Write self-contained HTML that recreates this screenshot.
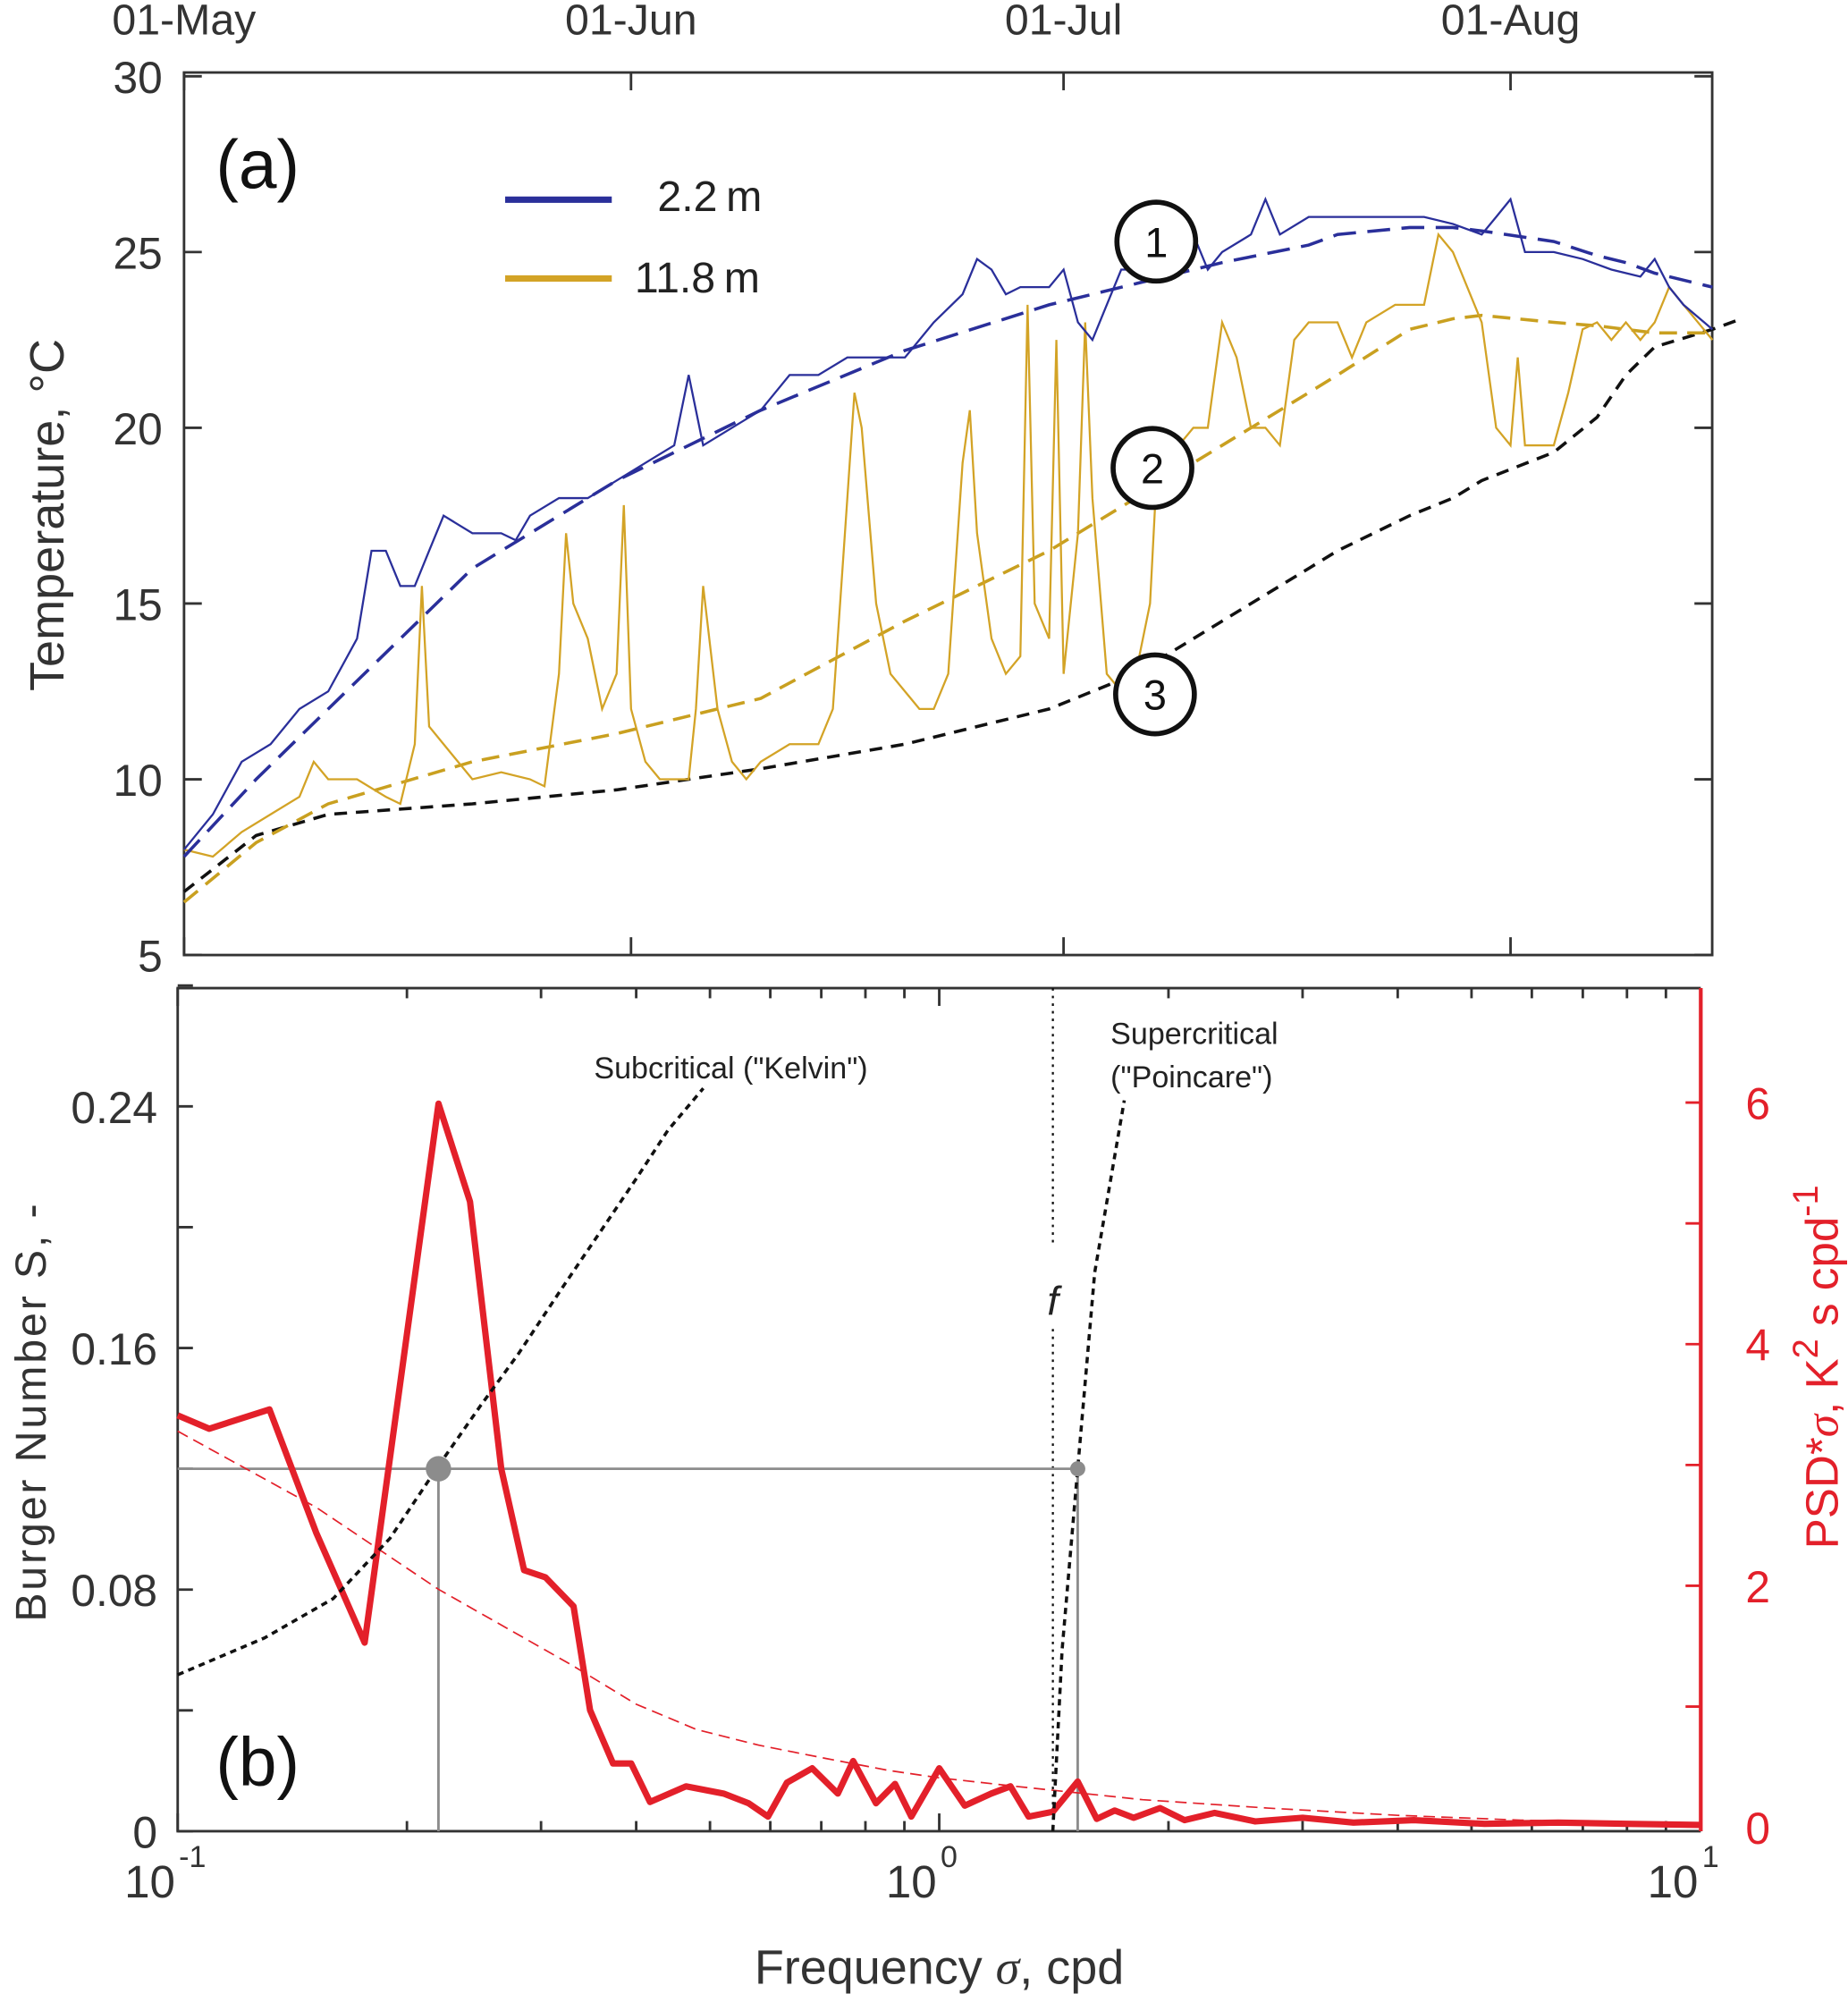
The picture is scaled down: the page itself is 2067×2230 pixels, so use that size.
<!DOCTYPE html>
<html><head><meta charset="utf-8"><style>
html,body{margin:0;padding:0;background:#fff;}
svg{display:block;font-family:"Liberation Sans",Arial,sans-serif;}
</style></head><body>
<svg id="fig" width="2067" height="2230" viewBox="0 0 1456 1568" preserveAspectRatio="none" xmlns="http://www.w3.org/2000/svg">
<g id="pa"></g>
<g id="pb"></g>
</svg>
<script>
// ---- Panel a data ----
const dateTicks = ["01-May","01-Jun","01-Jul","01-Aug"];
const dateTickDays = [0,31,61,92];
const tempTicks = [5,10,15,20,25,30];
const blueDays = [0,2,4,6,8,10,12,13,14,15,16,17,18,20,22,23,24,26,28,30,32,34,35,36,38,40,42,44,46,48,50,52,54,55,56,57,58,60,61,62,63,64,65,67,68,70,71,72,74,75,76,78,80,82,84,86,88,90,91,92,93,95,97,99,101,102,103,104,106];
const blueTemp = [8,9,10.5,11,12,12.5,14,16.5,16.5,15.5,15.5,16.5,17.5,17,17,16.8,17.5,18,18,18.5,19,19.5,21.5,19.5,20,20.5,21.5,21.5,22,22,22,23,23.8,24.8,24.5,23.8,24,24,24.5,23,22.5,23.5,24.5,24.5,24.8,25.5,24.5,25,25.5,26.5,25.5,26,26,26,26,26,25.8,25.5,26,26.5,25,25,24.8,24.5,24.3,24.8,24,23.5,22.8];
const yelDays = [0,2,4,6,8,9,10,12,14,15,16,16.5,17,18,20,22,24,25,26,26.5,27,28,29,30,30.5,31,32,33,35,35.5,36,37,38,39,40,42,44,45,46,46.5,47,48,49,51,52,53,54,54.5,55,56,57,58,58.5,59,60,60.5,61,62,62.5,63,64,65,66,67,67.5,68,69,70,71,72,73,74,75,76,77,78,80,81,82,84,86,87,88,90,91,92,92.5,93,95,96,97,98,99,100,101,102,103,104,106];
const yelTemp = [8,7.8,8.5,9,9.5,10.5,10,10,9.5,9.3,11,15.5,11.5,11,10,10.2,10,9.8,13,17,15,14,12,13,17.8,12,10.5,10,10,12,15.5,12,10.5,10,10.5,11,11,12,18,21,20,15,13,12,12,13,19,20.5,17,14,13,13.5,23.5,15,14,22.5,13,17,23,18,13,12.5,13,15,19,18,19.5,20,20,23,22,20,20,19.5,22.5,23,23,22,23,23.5,23.5,25.5,25,23,20,19.5,22,19.5,19.5,21,22.8,23,22.5,23,22.5,23,24,23.5,22.5];
const fitDays = [0,5,10,20,30,40,50,60,66,72,78,80,85,88,90,95,98,100,102,106,108];
const fitBlue = [7.8,10,12,16,18.5,20.5,22.2,23.5,24.1,24.7,25.2,25.5,25.7,25.7,25.6,25.3,24.9,24.7,24.4,24,23.8];
const fitYel = [6.5,8.2,9.3,10.5,11.3,12.3,14.5,16.5,18,19.5,21,21.5,22.8,23.1,23.2,23,22.9,22.8,22.7,22.7,22.7];
const fitBlack = [6.8,8.4,9,9.3,9.7,10.3,11,12,13,14.5,16,16.5,17.5,18,18.5,19.3,20.3,21.5,22.3,22.8,23.1];

// ---- Panel b data ----
const freqRed = [0.1,0.11,0.132,0.152,0.176,0.22,0.242,0.266,0.285,0.304,0.331,0.348,0.373,0.394,0.417,0.465,0.521,0.562,0.596,0.631,0.681,0.736,0.771,0.826,0.875,0.919,1.0,1.08,1.17,1.24,1.31,1.41,1.52,1.61,1.7,1.8,1.95,2.1,2.3,2.6,3.0,3.5,4.2,5.2,6.5,8.0,10];
const psdRed = [3.41,3.3,3.46,2.44,1.53,5.99,5.18,2.97,2.13,2.07,1.83,0.97,0.53,0.53,0.21,0.34,0.28,0.2,0.09,0.37,0.49,0.28,0.55,0.2,0.36,0.09,0.49,0.18,0.28,0.34,0.09,0.13,0.38,0.07,0.14,0.08,0.16,0.06,0.12,0.05,0.08,0.04,0.06,0.03,0.04,0.03,0.02];
const freqFit = [0.1,0.152,0.22,0.33,0.4,0.48,0.58,0.71,0.86,1.0,1.26,1.85,2.7,4.0,5.8,10];
const psdFit = [3.28,2.65,1.97,1.34,1.02,0.81,0.68,0.57,0.47,0.41,0.34,0.23,0.16,0.1,0.06,0.03];
const freqKelvin = [0.1,0.13,0.16,0.19,0.22,0.25,0.28,0.32,0.36,0.4,0.44,0.49];
const sKelvin = [0.0518,0.064,0.077,0.097,0.121,0.141,0.158,0.18,0.199,0.216,0.232,0.246];
const freqPoinc = [1.41,1.45,1.52,1.6,1.75];
const sPoinc = [0,0.06,0.12,0.185,0.242];
const sCrit = 0.12;
const fKelvinCrit = 0.22, fPoincCrit = 1.52, fInertial = 1.41;
const burgerTicks = [0,0.08,0.16,0.24];
const psdTicks = [0,2,4,6];

const NS="http://www.w3.org/2000/svg";
function mk(parent,tag,attrs,text){const e=document.createElementNS(NS,tag);for(const k in attrs)e.setAttribute(k,attrs[k]);if(text!==undefined)e.textContent=text;parent.appendChild(e);return e;}
const pa=document.getElementById('pa'), pb=document.getElementById('pb');

const AL=145,AR=1349,AT=60,AB=751;
const xd=d=>AL+d*11.36;
const yt=t=>AB-(t-5)*(AB-AT)/25;
function pathFrom(xs,ys,fx,fy){return xs.map((v,i)=>(i?'L':'M')+fx(v).toFixed(1)+','+fy(ys[i]).toFixed(1)).join(' ');}

let e;
e=mk(pa,'rect',{x:AL,y:AT-3,width:AR-AL,height:AB-AT+3,fill:'none',stroke:'#333',"stroke-width":2});

tempTicks.forEach(t=>{
  e=mk(pa,'text',{x:128,y:yt(t)+13,"text-anchor":"end","font-size":35,fill:'#333'},String(t));
  
  mk(pa,'line',{x1:AL,x2:AL+14,y1:yt(t),y2:yt(t),stroke:'#333',"stroke-width":2});
  mk(pa,'line',{x1:AR,x2:AR-14,y1:yt(t),y2:yt(t),stroke:'#333',"stroke-width":2});
});
dateTicks.forEach((s,i)=>{
  const x=xd(dateTickDays[i]);
  e=mk(pa,'text',{x:x,y:27,"text-anchor":"middle","font-size":34,fill:'#333'},s);
  
  mk(pa,'line',{x1:x,x2:x,y1:AT-3,y2:AT+11,stroke:'#333',"stroke-width":2});
  mk(pa,'line',{x1:x,x2:x,y1:AB,y2:AB-14,stroke:'#333',"stroke-width":2});
});
e=mk(pa,'text',{x:0,y:0,transform:'translate(50,405) rotate(-90)',"text-anchor":"middle","font-size":38,fill:'#333'},'Temperature, \u00B0C');

e=mk(pa,'text',{x:170,y:148,"font-size":54,fill:'#111'},'(a)');


e=mk(pa,'path',{d:pathFrom(fitDays,fitBlack,xd,yt),fill:'none',stroke:'#111',"stroke-width":2.5,"stroke-dasharray":"10,7"});

e=mk(pa,'path',{d:pathFrom(fitDays.slice(0,-1),fitYel.slice(0,-1),xd,yt),fill:'none',stroke:'#c9a020',"stroke-width":2.5,"stroke-dasharray":"14,8"});

e=mk(pa,'path',{d:pathFrom(yelDays,yelTemp,xd,yt),fill:'none',stroke:'#d3a326',"stroke-width":1.6});

e=mk(pa,'path',{d:pathFrom(blueDays,blueTemp,xd,yt),fill:'none',stroke:'#2a2f9a',"stroke-width":1.6});

e=mk(pa,'path',{d:pathFrom(fitDays.slice(0,-1),fitBlue.slice(0,-1),xd,yt),fill:'none',stroke:'#2a2f9a',"stroke-width":2.5,"stroke-dasharray":"18,9"});


[[911,190,'1'],[908,368,'2'],[910,546,'3']].forEach(c=>{
  e=mk(pa,'circle',{cx:c[0],cy:c[1],r:31,fill:'#fff',stroke:'#111',"stroke-width":4});
  
  mk(pa,'text',{x:c[0],y:c[1]+12,"text-anchor":"middle","font-size":33,fill:'#111'},c[2]);
});
e=mk(pa,'line',{x1:398,x2:482,y1:157,y2:157,stroke:'#2a2f9a',"stroke-width":5});

e=mk(pa,'text',{x:518,y:166,"font-size":34,fill:'#222'},'2.2\u2009m');

e=mk(pa,'line',{x1:398,x2:482,y1:219,y2:219,stroke:'#d3a326',"stroke-width":5});

e=mk(pa,'text',{x:500,y:230,"font-size":34,fill:'#222'},'11.8\u2009m');


const BL=140,BR=1340,BT=777,BB=1440;
const xf=f=>BL+(Math.log10(f)+1)*600;
const ys=s=>BB-s/0.08*190;
const yp=p=>1437-p*95;

e=mk(pb,'path',{d:`M${BR},${BT} L${BL},${BT} L${BL},${BB} L${BR},${BB}`,fill:'none',stroke:'#333',"stroke-width":2});

e=mk(pb,'line',{x1:BR,x2:BR,y1:BT,y2:BB,stroke:'#e3202a',"stroke-width":3});

for(let dec=-1;dec<1;dec++){for(let m=1;m<10;m++){const x=xf(m*Math.pow(10,dec));const L=m==1?14:8;
  mk(pb,'line',{x1:x,x2:x,y1:BT,y2:BT+L,stroke:'#333',"stroke-width":2});
  mk(pb,'line',{x1:x,x2:x,y1:BB,y2:BB-L,stroke:'#333',"stroke-width":2});}}
[[-1,140],[0,740],[1,1340]].forEach(t=>{
  e=mk(pb,'text',{x:t[1]-2,y:1492,"text-anchor":"end","font-size":36,fill:'#333'},'10');
  
  mk(pb,'text',{x:t[1]+1,y:1468,"font-size":24,fill:'#333'},String(t[0]));
});
for(let s=0;s<=0.28;s+=0.04){mk(pb,'line',{x1:BL,x2:BL+12,y1:ys(s),y2:ys(s),stroke:'#333',"stroke-width":2});}
burgerTicks.forEach(s=>{
  e=mk(pb,'text',{x:124,y:ys(s)+13,"text-anchor":"end","font-size":35,fill:'#333'},String(s));
  
});
for(let p=1;p<=6;p++){mk(pb,'line',{x1:BR,x2:BR-12,y1:yp(p),y2:yp(p),stroke:'#e3202a',"stroke-width":2});}
psdTicks.forEach(p=>{
  e=mk(pb,'text',{x:1385,y:yp(p)+13,"text-anchor":"middle","font-size":35,fill:'#e3202a'},String(p));
  
});
e=mk(pb,'text',{x:0,y:0,transform:'translate(36,1110) rotate(-90)',"text-anchor":"middle","font-size":34,fill:'#333',"letter-spacing":"2"},'Burger Number  S, -');

e=mk(pb,'text',{x:0,y:0,transform:'translate(1448,1075) rotate(-90)',"text-anchor":"middle","font-size":36,fill:'#e3202a'});

e.innerHTML='PSD*<tspan font-family="Liberation Serif" font-style="italic">\u03C3</tspan>, K<tspan dy="-16" font-size="28">2</tspan><tspan dy="16"> s cpd</tspan><tspan dy="-16" font-size="28">-1</tspan>';
e=mk(pb,'text',{x:740,y:1560,"text-anchor":"middle","font-size":38,fill:'#333'});

e.innerHTML='Frequency <tspan font-family="Liberation Serif" font-style="italic">\u03C3</tspan>, cpd';
e=mk(pb,'text',{x:170,y:1404,"font-size":54,fill:'#111'},'(b)');


const fx=xf(fInertial);
e=mk(pb,'path',{d:`M${fx},${BT} L${fx},980 M${fx},1045 L${fx},${BB}`,stroke:'#111',"stroke-width":1.6,"stroke-dasharray":"2,4",fill:'none'});

e=mk(pb,'text',{x:fx,y:1034,"text-anchor":"middle","font-size":32,"font-style":"italic",fill:'#222'},'f');


e=mk(pb,'path',{d:`M${BL},${ys(sCrit)} L${xf(fPoincCrit)},${ys(sCrit)} M${xf(fKelvinCrit)},${ys(sCrit)} L${xf(fKelvinCrit)},${BB} M${xf(fPoincCrit)},${ys(sCrit)} L${xf(fPoincCrit)},${BB}`,stroke:'#8c8c8c',"stroke-width":2,fill:'none'});


e=mk(pb,'path',{d:pathFrom(freqFit,psdFit,xf,yp),fill:'none',stroke:'#e3202a',"stroke-width":1.2,"stroke-dasharray":"9,5"});

e=mk(pb,'path',{d:pathFrom(freqRed,psdRed,xf,yp),fill:'none',stroke:'#e3202a',"stroke-width":5,"stroke-linejoin":"round"});

e=mk(pb,'path',{d:pathFrom(freqKelvin,sKelvin,xf,ys),fill:'none',stroke:'#111',"stroke-width":2.5,"stroke-dasharray":"5,4"});

e=mk(pb,'path',{d:pathFrom(freqPoinc,sPoinc,xf,ys),fill:'none',stroke:'#111',"stroke-width":2.5,"stroke-dasharray":"5,4"});

e=mk(pb,'circle',{cx:xf(fKelvinCrit),cy:ys(sCrit),r:10,fill:'#8c8c8c'});

e=mk(pb,'circle',{cx:xf(fPoincCrit),cy:ys(sCrit),r:6,fill:'#8c8c8c'});


e=mk(pb,'text',{x:468,y:848,"font-size":24,fill:'#222'},'Subcritical ("Kelvin")');

e=mk(pb,'text',{x:875,y:821,"font-size":24,fill:'#222'},'Supercritical');

mk(pb,'text',{x:875,y:855,"font-size":24,fill:'#222'},'("Poincare")');
</script>
</body></html>
